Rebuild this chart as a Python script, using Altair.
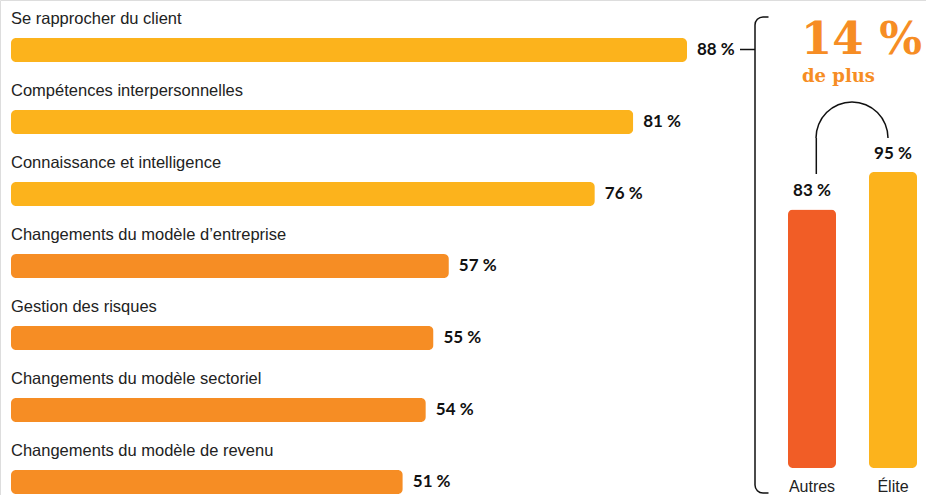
import altair as alt
import pandas as pd

# ---- data ----
categories = [
    "Se rapprocher du client",
    "Compétences interpersonnelles",
    "Connaissance et intelligence",
    "Changements du modèle d’entreprise",
    "Gestion des risques",
    "Changements du modèle sectoriel",
    "Changements du modèle de revenu",
]
values = [88, 81, 76, 57, 55, 54, 51]
value_labels = ["88 %", "81 %", "76 %", "57 %", "55 %", "54 %", "51 %"]

groups = ["Autres", "Élite"]
group_values = [83, 95]
group_labels = ["83 %", "95 %"]

headline = "14 %"
headline_sub = "de plus"

# ---- styles ----
YELLOW = "#FCB31C"
ORANGE = "#F68D24"
RED = "#F15D26"
TXT = "#222222"
DARK = "#111111"

left_df = pd.DataFrame({"cat": categories, "value": values, "label": value_labels})
right_df = pd.DataFrame({"grp": groups, "value": group_values, "label": group_labels})

xs = alt.Scale(domain=[0, 88], range=[11, 687])
ys = alt.Scale(domain=categories, range=[14, 518], paddingInner=0, paddingOuter=0)

base_l = alt.Chart(left_df)
bars_l = base_l.mark_bar(size=24, cornerRadius=5).encode(
    x=alt.X("value:Q", scale=xs, axis=None),
    y=alt.Y("cat:N", scale=ys, axis=None, sort=categories),
    color=alt.condition(alt.datum.value > 60, alt.value(YELLOW), alt.value(ORANGE)),
)
cat_text = base_l.mark_text(
    align="left", baseline="middle", dy=-31, fontSize=16.5, font="Liberation Sans", color=TXT
).encode(
    x=alt.X("zero:Q", scale=xs, axis=None),
    y=alt.Y("cat:N", scale=ys, axis=None, sort=categories),
    text="cat:N",
).transform_calculate(zero="0")
val_text = base_l.mark_text(
    align="left", baseline="middle", dx=10, fontSize=17, font="Lato", fontWeight="bold", color=DARK
).encode(
    x=alt.X("value:Q", scale=xs, axis=None),
    y=alt.Y("cat:N", scale=ys, axis=None, sort=categories),
    text="label:N",
)
left = alt.layer(bars_l, cat_text, val_text)

xr = alt.Scale(domain=groups, range=[771.5, 933.5], paddingInner=0, paddingOuter=0)
yr = alt.Scale(domain=[0, 95], range=[468, 172])

# bracket (decoration)
bracket = alt.Chart(left_df.head(1)).mark_rect(
    fill=None, stroke=DARK, strokeWidth=1.5, cornerRadius=8
).encode(x=alt.value(755), x2=alt.value(800), y=alt.value(17), y2=alt.value(493))
cover = alt.Chart(left_df.head(1)).mark_rect(fill="white", stroke=None).encode(
    x=alt.value(768.5), x2=alt.value(805), y=alt.value(10), y2=alt.value(500)
)
tick = alt.Chart(left_df.head(1)).mark_rule(stroke=DARK, strokeWidth=1.5).encode(
    x=alt.value(740), x2=alt.value(755), y=alt.value(49.5)
)
arc = alt.Chart(left_df.head(1)).mark_arc(
    radius=36.75, radius2=35.25, theta=4.71239, theta2=7.85398, color=DARK
).encode(x=alt.value(852), y=alt.value(138))
arc_leg = alt.Chart(left_df.head(1)).mark_rule(stroke=DARK, strokeWidth=1.5).encode(
    x=alt.value(816.3), y=alt.value(138), y2=alt.value(174)
)

base_r = alt.Chart(right_df)
bars_r = base_r.mark_bar(size=48, cornerRadius=5).encode(
    x=alt.X("grp:N", scale=xr, axis=None, sort=groups),
    y=alt.Y("value:Q", scale=yr, axis=None),
    color=alt.Color("grp:N", scale=alt.Scale(domain=groups, range=[RED, YELLOW]), legend=None),
)
rv_text = base_r.mark_text(
    align="center", baseline="middle", dy=-18, fontSize=17, font="Lato", fontWeight="bold", color=DARK
).encode(
    x=alt.X("grp:N", scale=xr, axis=None, sort=groups),
    y=alt.Y("value:Q", scale=yr, axis=None),
    text="label:N",
)
rg_text = base_r.mark_text(
    align="center", baseline="middle", dy=19, fontSize=16, font="Liberation Sans", color=TXT
).encode(
    x=alt.X("grp:N", scale=xr, axis=None, sort=groups),
    y=alt.Y("zero:Q", scale=yr, axis=None),
    text="grp:N",
).transform_calculate(zero="0")

head = alt.Chart(left_df.head(1)).mark_text(
    align="left", baseline="alphabetic", fontSize=45, font="DejaVu Serif",
    fontWeight="bold", color=ORANGE, text=headline
).encode(x=alt.value(801), y=alt.value(54))
sub = alt.Chart(left_df.head(1)).mark_text(
    align="left", baseline="alphabetic", fontSize=18, font="DejaVu Serif",
    fontWeight="bold", color=ORANGE, text=headline_sub
).encode(x=alt.value(802), y=alt.value(82))

right = alt.layer(bracket, cover, tick, arc, arc_leg, bars_r, rv_text, rg_text, head, sub)

chart = (
    alt.layer(left, right)
    .resolve_scale(x="independent", y="independent", color="independent")
    .properties(width=926, height=495, padding=0, autosize=alt.AutoSizeParams(type="none"))
    .configure_view(stroke=None)
    .configure(background="white")
)

chart.save("out.html", embed_options={"renderer": "svg", "actions": False})
